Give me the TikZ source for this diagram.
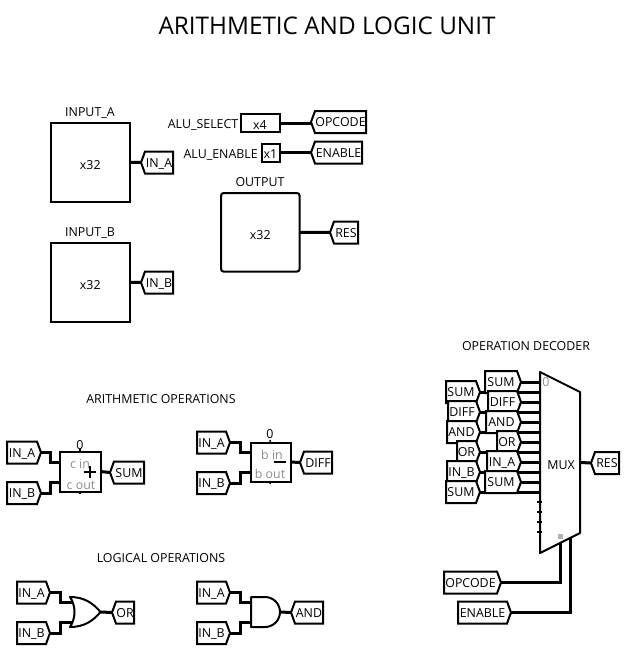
\documentclass[tikz,border=0pt]{standalone}
\usepackage{fontspec}
\setmainfont{Open Sans}
\usetikzlibrary{shapes.symbols}
\tikzset{
	wire/.style={line width=3pt,line join=miter},
	thinwire/.style={line width=1.4pt},
	gate/.style={line width=2pt,line join=round},
	label/.style={font=\fontsize{12.4}{12}\selectfont,inner sep=0pt,text height=9pt,text depth=0pt},
	graylabel/.style={label,text=black!45},
	heading/.style={font=\fontsize{12.4}{12}\selectfont,inner sep=0pt},
	tunnel/.style={draw,fill=white,line width=2pt,shape=signal,signal pointer angle=140,inner sep=0pt,outer sep=0pt,minimum height=22pt,text height=9pt,text depth=0pt,font=\fontsize{12.4}{12}\selectfont},
	tunnelR/.style={tunnel,signal to=east,anchor=east},
	tunnelL/.style={tunnel,signal to=west,anchor=west},
	pin/.style={draw,line width=2pt,inner sep=0pt,outer sep=0pt,text depth=0pt,text height=15pt,font=\fontsize{12.4}{12}\selectfont},
	smallpin/.style={pin,text height=12pt}
}
\begin{document}
\begin{tikzpicture}[line cap=butt,line join=miter,x=1pt,y=-1pt]
	\useasboundingbox (0,0) rectangle (624,649);
	\node (title) [font=\fontsize{24.3}{25}\selectfont,inner sep=0pt] at (327,26) {ARITHMETIC AND LOGIC UNIT};
	% pins
	\node (inputA) [pin,minimum width=78.5,minimum height=78.5] at (90.3,162.3) {x32};
	\node (inputAname) [label] at (90,111.5) {INPUT\_A};
	\node (inputB) [pin,minimum width=78.5,minimum height=78.5] at (90.3,282.3) {x32};
	\node (inputBname) [label] at (90,231.5) {INPUT\_B};
	\node (select) [smallpin,minimum width=39,minimum height=18] at (260,123) {x4};
	\node (selectname) [label,anchor=east] at (238.5,124) {ALU\_SELECT};
	\node (enable) [smallpin,minimum width=18,minimum height=18] at (270.5,152.5) {x1};
	\node (enablename) [label,anchor=east] at (258,154) {ALU\_ENABLE};
	\node (output) [pin,rounded corners=2.5pt,minimum width=78.5,minimum height=78.5] at (260.3,232.3) {x32};
	\node (outputname) [label] at (260,181.5) {OUTPUT};
	\node (tIn1) [tunnelL,minimum width=32] at (141,162.5) {IN\_A};
	\node (tIn2) [tunnelL,minimum width=32] at (141,282.5) {IN\_B};
	\node (tOpc) [tunnelL,minimum width=55] at (311,122) {OPCODE};
	\node (tEna) [tunnelL,minimum width=51] at (311,152.5) {ENABLE};
	\node (tRes) [tunnelL,minimum width=28] at (330,232.5) {RES};
	\draw[wire] (inputA.east) -- (tIn1.west);
	\draw[wire] (inputB.east) -- (tIn2.west);
	\draw[wire] (select.east) -- (select.east -| tOpc.west);
	\draw[wire] (enable.east) -- (tEna.west);
	\draw[wire] (output.east) -- (tRes.west);
	% arithmetic
	\node (arithname) [heading] at (161,399.5) {ARITHMETIC OPERATIONS};
	\node (adder) [draw,line width=2pt,inner sep=0pt,outer sep=0pt,minimum width=41,minimum height=40] at (80,471.5) {};
	\coordinate (addA) at (59,462);
	\coordinate (addB) at (59,482);
	\node (addA1) [tunnelR,minimum width=34] at (41,452.5) {IN\_A};
	\node (addB1) [tunnelR,minimum width=34] at (41,493) {IN\_B};
	\node (addS) [tunnelL,minimum width=34] at (110,472.5) {SUM};
	\draw[wire] (addA1.east) -- ++(9,0) |- (addA);
	\draw[wire] (addB1.east) -- ++(9,0) |- (addB);
	\draw[wire] (adder.east) -- (addS.west);
	\node (addzero) [label] at (80,445) {0};
	\node (addcin) [graylabel] at (80,464) {c in};
	\node (addcout) [graylabel] at (81,485) {c out};
	\draw[wire,line width=2.5pt] (84,472) -- (96,472);
	\draw[wire,line width=2.5pt] (90,466) -- (90,478);
	\draw[thinwire] (80,449) -- (adder.north);
	\draw[thinwire] (80,494) -- (adder.south);
	\node (subtr) [draw,line width=2pt,inner sep=0pt,outer sep=0pt,minimum width=40,minimum height=39] at (270.5,462) {};
	\coordinate (subA) at (250,452);
	\coordinate (subB) at (250,472);
	\node (subA1) [tunnelR,minimum width=33] at (230,442.5) {IN\_A};
	\node (subB1) [tunnelR,minimum width=33] at (230,483) {IN\_B};
	\node (subD) [tunnelL,minimum width=32] at (300,462.5) {DIFF};
	\draw[wire] (subA1.east) -- ++(10,0) |- (subA);
	\draw[wire] (subB1.east) -- ++(10,0) |- (subB);
	\draw[wire] (subtr.east) -- (subD.west);
	\node (subzero) [label] at (270,434) {0};
	\node (subbin) [graylabel] at (272,455) {b in};
	\node (subbout) [graylabel] at (270,474) {b out};
	\draw[wire,line width=2.5pt] (274,462) -- (286,462);
	\draw[thinwire] (270,440) -- (subtr.north);
	\draw[thinwire] (270,484) -- (subtr.south);
	% logic
	\node (logicname) [heading] at (161,558.5) {LOGICAL OPERATIONS};
	\coordinate (orA) at (73,602);
	\coordinate (orB) at (73,622);
	\coordinate (orOut) at (100.5,612);
	\coordinate (andA) at (251,602);
	\coordinate (andB) at (251,622);
	\coordinate (andOut) at (280,612);
	\node (orA1) [tunnelR,minimum width=33] at (50,592.5) {IN\_A};
	\node (orB1) [tunnelR,minimum width=33] at (50,633) {IN\_B};
	\node (orR) [tunnelL,minimum width=22] at (112,612.5) {OR};
	\node (andA1) [tunnelR,minimum width=33] at (230,592.5) {IN\_A};
	\node (andB1) [tunnelR,minimum width=33] at (230,633) {IN\_B};
	\node (andR) [tunnelL,minimum width=32] at (291,612.5) {AND};
	\draw[wire] (orA1.east) -- ++(10,0) |- (orA);
	\draw[wire] (orB1.east) -- ++(10,0) |- (orB);
	\draw[wire] (andA1.east) -- ++(10,0) |- (andA);
	\draw[wire] (andB1.east) -- ++(10,0) |- (andB);
	\draw[wire] (orOut) -- (orR.west);
	\draw[wire] (andOut) -- (andR.west);
	\draw[gate,fill=white] (70,597) .. controls (84,597) and (93,603) .. (orOut) .. controls (93,621) and (84,627) .. (70,627) .. controls (76,618) and (76,606) .. (70,597) -- cycle;
	\draw[gate,fill=white] (251,597) -- (265,597) .. controls (273.3,597) and (280,603.7) .. (andOut) .. controls (280,620.3) and (273.3,627) .. (265,627) -- (251,627) -- cycle;
	% decoder
	\node (muxname) [heading] at (526,346.5) {OPERATION DECODER};
	\coordinate (muxTL) at (540,372);
	\coordinate (muxTR) at (580,392);
	\coordinate (muxBR) at (580,533);
	\coordinate (muxBL) at (540,553);
	\coordinate (muxOut) at (580,462.5);
	\coordinate (muxSel) at (560,543);
	\coordinate (muxEn) at (570,538);
	\foreach \y in {502,512,522,532}
		\draw[thinwire] (537,\y) -- (542,\y);
	\foreach \nm/\txt/\yy/\ww in {mL1/SUM/392/34,mL2/DIFF/412/32,mL3/AND/432/33,mL4/OR/452/23,mL5/IN\_B/472/33,mL6/SUM/492/34}{
		\coordinate (\nm p) at (540,\yy);
		\node (\nm) [tunnelR,minimum width=\ww] at (480,\yy) {\txt};
		\draw[wire] (\nm.east) -- (\nm p);
	}
	\foreach \nm/\txt/\yy/\ww in {mR1/SUM/382/36,mR2/DIFF/402/33,mR3/AND/422/35,mR4/OR/442/24,mR5/IN\_A/462/34,mR6/SUM/482/36}{
		\coordinate (\nm p) at (540,\yy);
		\node (\nm) [tunnelR,minimum width=\ww] at (521,\yy) {\txt};
		\draw[wire] (\nm.east) -- (\nm p);
	}
	\draw[gate] (muxTL) -- (muxTR) -- (muxBR) -- (muxBL) -- cycle;
	\node (muxtext) [label] at (561,465) {MUX};
	\node (muxzero) [graylabel] at (546,382) {0};
	\node (muxsq) [fill=black!30,inner sep=0pt,minimum size=5] at (560,536) {};
	\node (tMres) [tunnelL,minimum width=28] at (591,463) {RES};
	\node (tMopc) [tunnelR,minimum width=57] at (501,582.5) {OPCODE};
	\node (tMena) [tunnelR,minimum width=53] at (511,612.5) {ENABLE};
	\draw[wire] (muxOut) -- (tMres.west);
	\draw[wire] (tMopc.east) -| (muxSel);
	\draw[wire] (tMena.east) -| (muxEn);
\end{tikzpicture}
\end{document}
